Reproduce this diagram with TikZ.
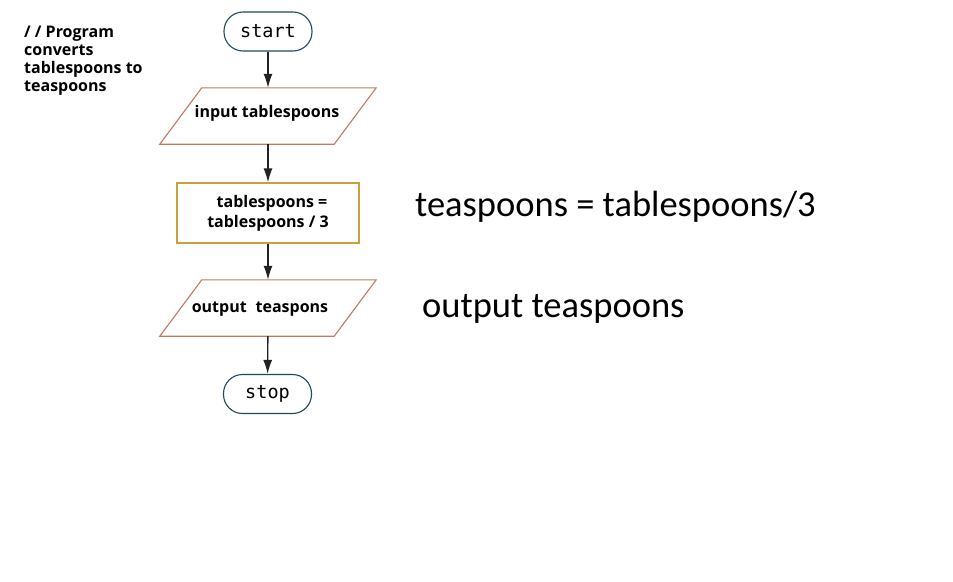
\documentclass[tikz,border=0pt]{standalone}
\usepackage{fontspec}
\setmainfont{Open Sans}
\newfontfamily\calib{Carlito}
\newfontfamily\monof{DejaVu Sans Mono}
\usetikzlibrary{arrows.meta}
\definecolor{termc}{HTML}{1F4A5C}
\definecolor{parac}{HTML}{C07A62}
\definecolor{procc}{HTML}{C9A03E}
\definecolor{arrc}{HTML}{222222}
\tikzset{
  term/.style={draw=termc, line width=1.1pt, rounded corners=19pt, minimum width=88pt, minimum height=39pt, inner sep=0pt, font=\monof\fontsize{18.5}{20}\selectfont},
  parabox/.style={minimum width=174pt, minimum height=56pt, inner sep=0pt},
  paraline/.style={draw=parac, line width=1.1pt},
  proc/.style={draw=procc, line width=1.3pt, minimum width=182pt, minimum height=60pt, inner sep=0pt, align=center, font=\bfseries\fontsize{16}{20}\selectfont},
  lbl/.style={font=\bfseries\fontsize{16}{18}\selectfont, inner sep=0pt},
  flow/.style={draw=arrc, line width=1.4pt, -{Latex[length=14pt,width=9pt]}},
  big/.style={font=\calib\fontsize{36.5}{40}\selectfont, anchor=west, inner sep=0pt}
}
\begin{document}
\begin{tikzpicture}[x=1pt,y=-1pt]
\useasboundingbox (0,0) rectangle (953,581);
\fill[white] (0,0) rectangle (953,581);
\node[term] (start) at (268,31.5) {start};
\node[parabox] (in) at (268,116) {};
\node[lbl] (intxt) at (267,113) {input tablespoons};
\node[proc] (proc) at (268,213) {\hspace*{8pt}tablespoons =\\tablespoons / 3};
\node[parabox] (out) at (268,308) {};
\node[lbl] (outtxt) at (260,309) {output\hspace{0.3em} teaspons};
\node[term] (stop) at (267.5,394) {stop};
\draw[paraline] ([xshift=21pt]in.north west) -- ([xshift=21pt]in.north east) -- ([xshift=-21pt]in.south east) -- ([xshift=-21pt]in.south west) -- cycle;
\draw[paraline] ([xshift=21pt]out.north west) -- ([xshift=21pt]out.north east) -- ([xshift=-21pt]out.south east) -- ([xshift=-21pt]out.south west) -- cycle;
\draw[flow] (start) -- (in);
\draw[flow] (in) -- (proc);
\draw[flow] (proc) -- (out);
\draw[flow] (out) -- (stop);
\node[font=\bfseries\fontsize{16}{18}\selectfont, align=left, anchor=north west, inner sep=0pt] (cmt) at (24,26) {/ / Program\\converts\\tablespoons to\\teaspoons};
\node[big] (eq) at (415,207) {teaspoons = tablespoons/3};
\node[big] (ot) at (422,309) {output teaspoons};
\end{tikzpicture}
\end{document}
